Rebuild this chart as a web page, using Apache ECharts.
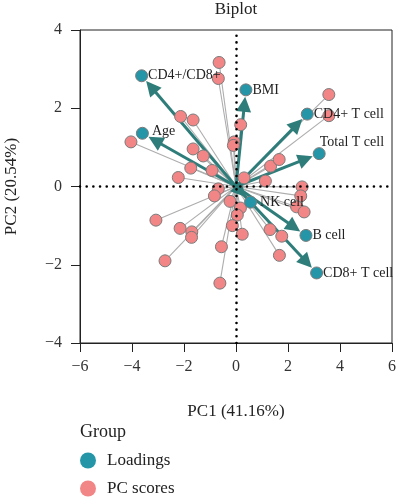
<!DOCTYPE html>
<html>
<head>
<meta charset="UTF-8">
<title>Biplot</title>
<script src="https://cdn.jsdelivr.net/npm/echarts@6/dist/echarts.min.js"></script>
<style>
  html, body { margin: 0; padding: 0; background: #fff; }
  #main { width: 397px; height: 500px; }
</style>
</head>
<body>
<div id="main"></div>
<script type="text/javascript">
// PC scores (individual samples)
var scoreX = [-0.65, -0.68, -2.13, -1.65, -4.04, -1.65, -1.26, -1.74, -0.92, -2.22,
              0.18, -0.07, -0.10, 0.31, 1.13, 1.33, 1.66, -0.68, -0.83, -0.23,
              0.17, 0.05, -0.14, 0.24, -3.08, -2.15, -1.70, -1.71, -0.56, -2.73,
              -0.62, 3.57, 3.57, 2.54, 2.49, 2.33, 2.62, 1.31, 1.76, 1.67];
var scoreY = [3.17, 2.76, 1.79, 1.70, 1.14, 0.96, 0.78, 0.47, 0.41, 0.23,
              1.58, 1.14, 1.05, 0.22, 0.14, 0.52, 0.69, -0.06, -0.24, -0.38,
              -0.55, -0.73, -1.00, -1.22, -0.86, -1.07, -1.16, -1.30, -1.54, -1.90,
              -2.47, 2.35, 1.81, -0.01, -0.24, -0.52, -0.65, -1.10, -1.27, -1.76];

// loadings (variables)
var loadingNames = ['CD4+/CD8+', 'Age', 'BMI', 'CD4+ T cell', 'Total T cell', 'NK cell', 'B cell', 'CD8+ T cell'];
var loadingX = [-3.63, -3.60, 0.38, 2.74, 3.20, 0.56, 2.69, 3.10];
var loadingY = [2.83, 1.36, 2.47, 1.85, 0.84, -0.40, -1.25, -2.21];

var groups = ['Loadings', 'PC scores'];
var xRange = [-6, 6];
var yRange = [-4, 4];

var tealColor = '#2596a8';
var pinkColor = '#f28585';
var arrowColor = '#2e7d7a';
var serif = 'Liberation Serif';

// label tweaks (ggrepel-like placement)
var labelOffsets = {
  'Age': [3, -2],
  'NK cell': [3, 0],
  'Total T cell': [-6, -11]
};

var myChart = echarts.init(document.getElementById('main'));

var scoreData = [];
var segData = [];
for (var i = 0; i < scoreX.length; i++) {
  scoreData.push([scoreX[i], scoreY[i]]);
  segData.push({ coords: [[0, 0], [scoreX[i], scoreY[i]]] });
}
var loadingData = [];
for (var j = 0; j < loadingNames.length; j++) {
  var item = { name: loadingNames[j], value: [loadingX[j], loadingY[j]] };
  if (labelOffsets[loadingNames[j]]) {
    item.label = { offset: labelOffsets[loadingNames[j]] };
  }
  loadingData.push(item);
}

function minusFmt(v) {
  return String(v).replace('-', '\u2212');
}

function renderArrow(params, api) {
  var o = api.coord([0, 0]);
  var p = api.coord([api.value(0), api.value(1)]);
  var dx = p[0] - o[0], dy = p[1] - o[1];
  var len = Math.sqrt(dx * dx + dy * dy);
  var ux = dx / len, uy = dy / len;
  var tip = [p[0] - ux * 7, p[1] - uy * 7];
  var hl = 15, hw = 7.5;
  var base = [tip[0] - ux * hl, tip[1] - uy * hl];
  var nx = -uy, ny = ux;
  return {
    type: 'group',
    children: [{
      type: 'line',
      shape: { x1: o[0], y1: o[1], x2: base[0] + ux * 3, y2: base[1] + uy * 3 },
      style: { stroke: arrowColor, lineWidth: 3 }
    }, {
      type: 'polygon',
      shape: { points: [tip, [base[0] + nx * hw, base[1] + ny * hw], [base[0] - nx * hw, base[1] - ny * hw]] },
      style: { fill: arrowColor }
    }]
  };
}

var option = {
  animation: false,
  graphic: [{
    type: 'text', x: 236, y: 10,
    style: { text: 'Biplot', font: '17px "Liberation Serif"', fill: '#222', textAlign: 'center', textVerticalAlign: 'middle' }
  }, {
    type: 'text', x: 80, y: 432,
    style: { text: 'Group', font: '18px "Liberation Serif"', fill: '#222', textAlign: 'left', textVerticalAlign: 'middle' }
  }],
  grid: {
    left: 80, right: 5, top: 30, bottom: 157,
    outerBoundsMode: 'none',
    containLabel: false,
    show: true, borderColor: '#222', borderWidth: 1
  },
  legend: {
    data: groups,
    orient: 'vertical',
    left: 80, top: 452,
    padding: 0,
    icon: 'circle',
    itemWidth: 16, itemHeight: 16, itemGap: 11,
    itemStyle: { borderWidth: 0 },
    textStyle: { fontFamily: serif, fontSize: 17, color: '#222', padding: [0, 0, 0, 6] }
  },
  xAxis: {
    type: 'value', min: xRange[0], max: xRange[1], interval: 2,
    name: 'PC1 (41.16%)', nameLocation: 'middle', nameGap: 60,
    nameTextStyle: { fontFamily: serif, fontSize: 17, color: '#222' },
    axisLine: { onZero: false, lineStyle: { color: '#222' } },
    axisTick: { length: 9, lineStyle: { color: '#222' } },
    axisLabel: { fontFamily: serif, fontSize: 16, color: '#333', margin: 16, formatter: minusFmt },
    splitLine: { show: false }
  },
  yAxis: {
    type: 'value', min: yRange[0], max: yRange[1], interval: 2,
    name: 'PC2 (20.54%)', nameLocation: 'middle', nameGap: 60, nameRotate: 90,
    nameTextStyle: { fontFamily: serif, fontSize: 17, color: '#222' },
    axisLine: { onZero: false, lineStyle: { color: '#222' } },
    axisTick: { length: 9, lineStyle: { color: '#222' } },
    axisLabel: { fontFamily: serif, fontSize: 16, color: '#333', margin: 18, formatter: minusFmt },
    splitLine: { show: false }
  },
  series: [{
    // dotted reference lines at zero
    type: 'line',
    data: [],
    silent: true,
    z: 1,
    markLine: {
      symbol: 'none',
      silent: true,
      label: { show: false },
      lineStyle: { color: '#000', width: 2.6, type: [0.01, 6.67], cap: 'round' },
      data: [{ xAxis: 0 }, { yAxis: 0 }]
    }
  }, {
    type: 'lines',
    coordinateSystem: 'cartesian2d',
    data: segData,
    silent: true,
    z: 2,
    lineStyle: { color: '#adadad', width: 1.1, opacity: 1 }
  }, {
    type: 'custom',
    data: loadingData.map(function (d) { return d.value; }),
    renderItem: renderArrow,
    silent: true,
    z: 3
  }, {
    name: 'PC scores',
    type: 'scatter',
    data: scoreData,
    symbolSize: 12,
    z: 4,
    itemStyle: { color: pinkColor, borderColor: '#7a7a7a', borderWidth: 1, opacity: 1 }
  }, {
    name: 'Loadings',
    type: 'scatter',
    data: loadingData,
    symbolSize: 12,
    z: 5,
    itemStyle: { color: tealColor, borderColor: '#7a7a7a', borderWidth: 1, opacity: 1 },
    label: {
      show: true,
      position: 'right',
      distance: 0,
      formatter: '{b}',
      fontFamily: serif,
      fontSize: 14,
      color: '#222'
    }
  }]
};

myChart.setOption(option);
</script>
</body>
</html>
